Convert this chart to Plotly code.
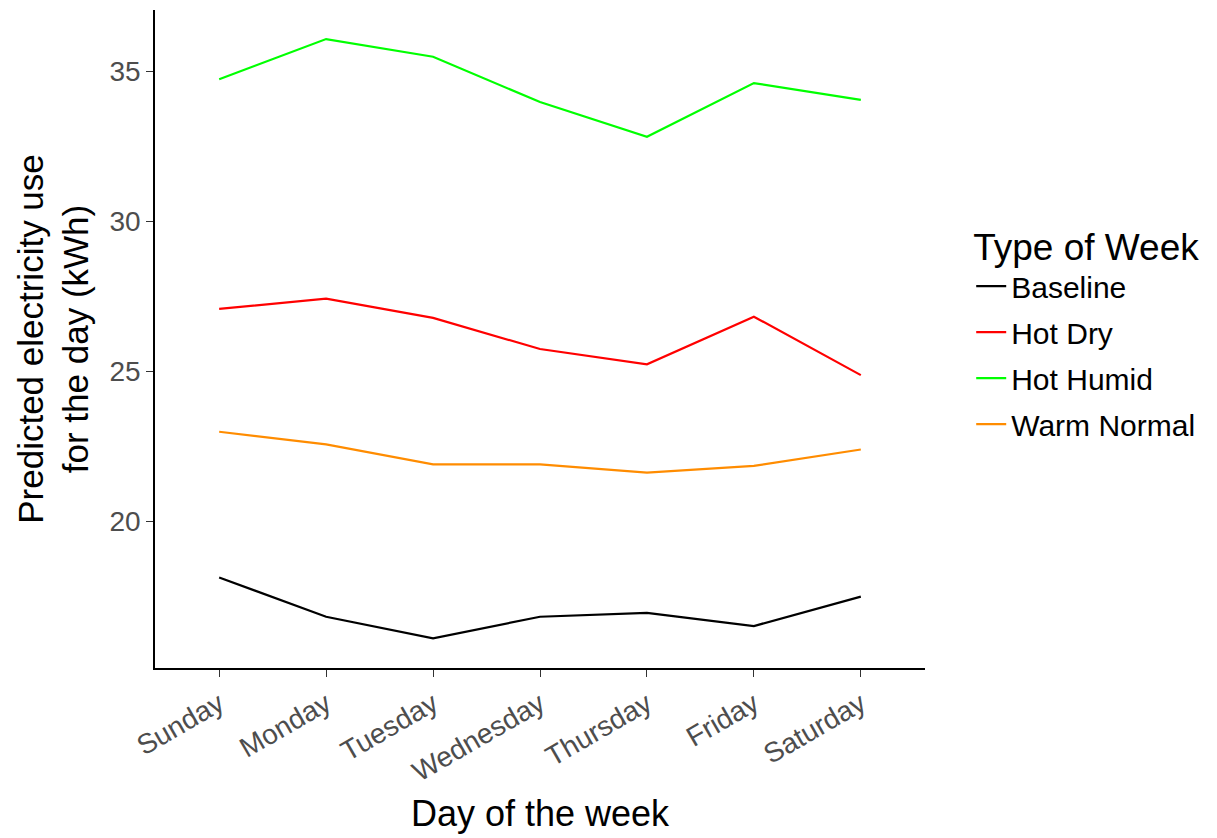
import plotly.graph_objects as go

days = ["Sunday", "Monday", "Tuesday", "Wednesday", "Thursday", "Friday", "Saturday"]

baseline = [18.12, 16.81, 16.09, 16.81, 16.94, 16.50, 17.48]
hot_dry = [27.08, 27.42, 26.78, 25.74, 25.23, 26.82, 24.87]
hot_humid = [34.74, 36.08, 35.49, 33.98, 32.82, 34.61, 34.05]
warm_normal = [22.98, 22.56, 21.89, 21.89, 21.62, 21.84, 22.39]

series = [
    ("Baseline", baseline, "#000000"),
    ("Hot Dry", hot_dry, "#FF0000"),
    ("Hot Humid", hot_humid, "#00FF00"),
    ("Warm Normal", warm_normal, "#FF8C00"),
]

fig = go.Figure()
for name, vals, color in series:
    fig.add_trace(go.Scatter(
        x=days, y=vals, mode="lines", name=name,
        legendgroup=name,
        line=dict(color=color, width=2.2),
    ))

font_family = "Liberation Sans, Arial, sans-serif"

fig.update_layout(
    width=1217, height=838,
    margin=dict(l=155, r=292, t=10, b=170),
    paper_bgcolor="white", plot_bgcolor="white",
    font=dict(family=font_family, color="#000000"),
    showlegend=True,
    legend=dict(
        title=dict(text="Type of Week", font=dict(size=37, color="#000000")),
        font=dict(size=30, color="#000000"),
        x=1.06, xanchor="left", y=0.693, yanchor="top",
        traceorder="grouped", tracegroupgap=4,
        bgcolor="rgba(0,0,0,0)",
    ),
    xaxis=dict(
        type="category",
        range=[-0.6, 6.6],
        showline=True, linecolor="#000000", linewidth=1.6,
        ticks="outside", ticklen=7, tickwidth=1.3, tickcolor="#333333",
        tickangle=-30,
        tickfont=dict(size=28, color="#4D4D4D"),
        showgrid=False, zeroline=False,
        title=dict(text="Day of the week", font=dict(size=36, color="#000000"), standoff=14),
    ),
    yaxis=dict(
        range=[15.1, 37.05],
        tickvals=[20, 25, 30, 35],
        showline=True, linecolor="#000000", linewidth=1.6,
        ticks="outside", ticklen=7, tickwidth=1.3, tickcolor="#333333",
        tickfont=dict(size=28, color="#4D4D4D"),
        showgrid=False, zeroline=False,
        title=dict(text="Predicted electricity use<br>for the day (kWh)",
                   font=dict(size=35, color="#000000"), standoff=10),
    ),
)

fig.write_html("out.html")
